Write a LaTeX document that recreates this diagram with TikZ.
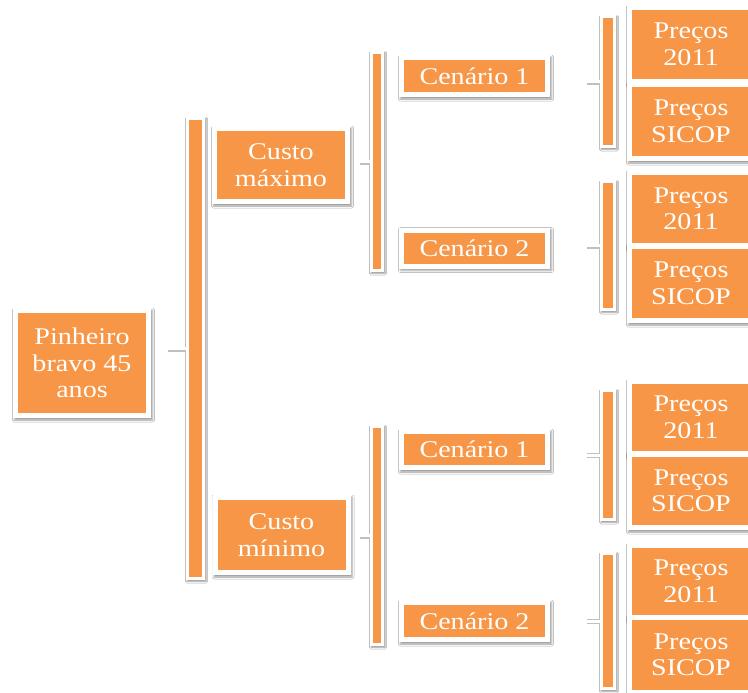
\documentclass[tikz,border=0pt]{standalone}
\usepackage{fontspec}
\setmainfont{Liberation Serif}[FakeStretch=1.17]
\usetikzlibrary{shadows.blur}
\definecolor{acc}{HTML}{F79646}
\tikzset{
  card/.style={fill=white, inner sep=0pt, align=center, text=white,
    font=\fontsize{24}{26.5}\selectfont,
    blur shadow={shadow xshift=1.5pt, shadow yshift=-2pt, shadow blur radius=2pt, shadow opacity=40},
    path picture={\fill[acc] ([shift={(5pt,5pt)}]path picture bounding box.south west) rectangle ([shift={(-5pt,-5pt)}]path picture bounding box.north east);}},
  rail/.style={fill=white, inner sep=0pt,
    blur shadow={shadow xshift=1pt, shadow yshift=-1.5pt, shadow blur radius=1.5pt, shadow opacity=40},
    path picture={\fill[acc] ([shift={(3pt,3pt)}]path picture bounding box.south west) rectangle ([shift={(-3pt,-3pt)}]path picture bounding box.north east);}},
  nub/.style={draw=white, line width=3pt,
    preaction={draw=black!25, line width=5pt, transform canvas={yshift=-0.7pt}}}
}
\begin{document}
\begin{tikzpicture}[x=1pt,y=-1pt]
\fill[white] (0,0) rectangle (748,693);
\useasboundingbox (0,0) rectangle (748,693);
% rails
\node[rail, minimum width=19pt, minimum height=463pt] (B1) at (195.5,348.5) {};
\node[rail, minimum width=14pt, minimum height=221pt] (B2a) at (377,161.5) {};
\node[rail, minimum width=14pt, minimum height=221pt] (B2b) at (377,535.5) {};
\node[rail, minimum width=16pt, minimum height=133pt] (B3a) at (608,81.5) {};
\node[rail, minimum width=16pt, minimum height=131pt] (B3b) at (608,245.5) {};
\node[rail, minimum width=16pt, minimum height=132pt] (B3c) at (608,455) {};
\node[rail, minimum width=16pt, minimum height=138pt] (B3d) at (608,621) {};
% nubs
\coordinate (n1) at (168,348.5);
\coordinate (n2a) at (360,161.5);
\coordinate (n2b) at (360,535.5);
\coordinate (n3a) at (587,81.5);
\coordinate (n3b) at (587,245.5);
\coordinate (n3c) at (587,455);
\coordinate (n3d) at (587,621);
\draw[nub] (B1.west) -- (n1);
\draw[nub] (B2a.west) -- (n2a);
\draw[nub] (B2b.west) -- (n2b);
\draw[nub] (B3a.west) -- (n3a);
\draw[nub] (B3b.west) -- (n3b);
\draw[nub] (B3c.west) -- (n3c);
\draw[nub] (B3d.west) -- (n3d);
% cards
\node[card, minimum width=138pt, minimum height=110pt] (root) at (82,363) {Pinheiro\\bravo 45\\anos};
\node[card, minimum width=138pt, minimum height=78pt] (cmax) at (281,165) {Custo\\máximo};
\node[card, minimum width=138pt, minimum height=80pt] (cmin) at (281.5,535) {Custo\\mínimo};
\node[card, minimum width=151pt, minimum height=42pt] (c1a) at (474.5,76) {Cenário 1};
\node[card, minimum width=151pt, minimum height=41pt] (c2a) at (474.5,248) {Cenário 2};
\node[card, minimum width=151pt, minimum height=41pt] (c1b) at (474.5,449.5) {Cenário 1};
\node[card, minimum width=151pt, minimum height=42pt] (c2b) at (474.5,621) {Cenário 2};
\node[card, minimum width=128pt, minimum height=79pt] (p1a) at (691,44.5) {Preços\\2011};
\node[card, minimum width=128pt, minimum height=79pt] (p1b) at (691,121.5) {Preços\\SICOP};
\node[card, minimum width=128pt, minimum height=78pt] (p2a) at (691,209) {Preços\\2011};
\node[card, minimum width=128pt, minimum height=79pt] (p2b) at (691,283.5) {Preços\\SICOP};
\node[card, minimum width=128pt, minimum height=77pt] (p3a) at (691,417.5) {Preços\\2011};
\node[card, minimum width=128pt, minimum height=78pt] (p3b) at (691,491) {Preços\\SICOP};
\node[card, minimum width=128pt, minimum height=77pt] (p4a) at (691,581.5) {Preços\\2011};
\node[card, minimum width=128pt, minimum height=80pt] (p4b) at (691,655) {Preços\\SICOP};
\end{tikzpicture}
\end{document}
